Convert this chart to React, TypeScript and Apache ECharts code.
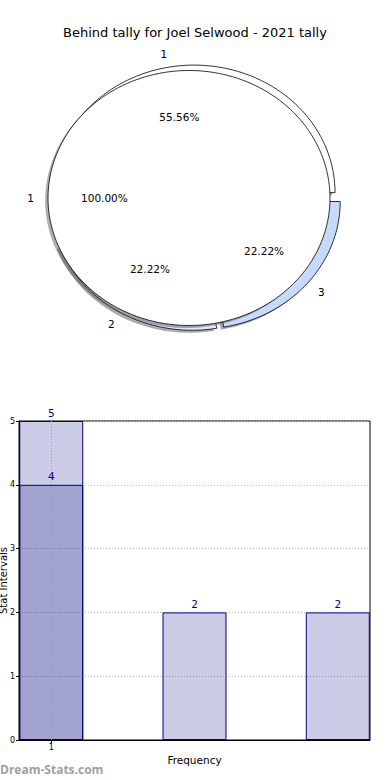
import React, { useEffect, useRef } from 'react';
import * as echarts from 'echarts';

const TITLE = 'Behind tally for Joel Selwood - 2021 tally';
const OUTER_LABELS = ['1', '2', '3'];
const OUTER_VALUES = [5, 2, 2];
const INNER_LABELS = ['1'];
const INNER_VALUES = [4];
const BAR_X = [1, 2, 3];
const BAR_TOTALS = [5, 2, 2];
const BAR_X_SUB = [1];
const BAR_SUB = [4];
const X_TICK_VALUES = [1];
const X_AXIS_NAME = 'Frequency';
const Y_AXIS_NAME = 'Stat Intervals';
const WATERMARK = 'Dream-Stats.com';

const FONT = "'DejaVu Sans', sans-serif";

type Geom = { cx: number; cy: number; rx: number; ry: number; explode: number; start: number; zBase: number };

function shade(hex: string) {
  const n = parseInt(hex.slice(1), 16);
  const r = Math.round(((n >> 16) & 255) * 0.3);
  const g = Math.round(((n >> 8) & 255) * 0.3);
  const b = Math.round((n & 255) * 0.3);
  return `rgba(${r},${g},${b},0.45)`;
}

function makePieRender(values: number[], labels: string[], colors: string[], geom: Geom) {
  const total = values.reduce((a, b) => a + b, 0);
  return (params: any, api: any) => {
    const i = params.dataIndex;
    const v = api.value(0);
    let start = geom.start;
    for (let j = 0; j < i; j++) start += (values[j] / total) * 360;
    const sweep = (v / total) * 360;
    const mid = ((start + sweep / 2) * Math.PI) / 180;
    const ox = geom.cx + geom.explode * Math.cos(mid);
    const oy = geom.cy - geom.explode * Math.sin(mid);
    const full = sweep >= 359.999;
    const pts: number[][] = [];
    if (!full) pts.push([ox, oy]);
    const n = Math.max(8, Math.ceil(sweep / 2));
    for (let k = 0; k <= n; k++) {
      const a = ((start + (sweep * k) / n) * Math.PI) / 180;
      pts.push([ox + geom.rx * Math.cos(a), oy - geom.ry * Math.sin(a)]);
    }
    const shadowPts = pts.map(([x, y]) => [x - 0.02 * geom.rx, y + 0.02 * geom.ry]);
    const lx = ox + 1.1 * geom.rx * Math.cos(mid);
    const ly = oy - 1.1 * geom.ry * Math.sin(mid);
    const px = ox + 0.6 * geom.rx * Math.cos(mid);
    const py = oy - 0.6 * geom.ry * Math.sin(mid);
    const color = colors[i % colors.length];
    return {
      type: 'group',
      children: [
        {
          type: 'polygon',
          z2: geom.zBase,
          shape: { points: shadowPts },
          style: { fill: shade(color), stroke: 'none' },
        },
        {
          type: 'polygon',
          z2: geom.zBase + 1,
          shape: { points: pts },
          style: { fill: color, stroke: '#000', lineWidth: 0.8 },
        },
        {
          type: 'text',
          z2: 50,
          x: lx,
          y: ly,
          style: {
            text: labels[i],
            fill: '#000',
            fontSize: 10.5,
            fontFamily: FONT,
            align: Math.cos(mid) > 0 ? 'left' : 'right',
            verticalAlign: 'middle',
          },
        },
        {
          type: 'text',
          z2: 50,
          x: px,
          y: py,
          style: {
            text: ((v / total) * 100).toFixed(2) + '%',
            fill: '#000',
            fontSize: 10.5,
            fontFamily: FONT,
            align: 'center',
            verticalAlign: 'middle',
          },
        },
      ],
    };
  };
}

const barColor = 'rgba(0,0,128,0.2)';
const barEdge = '#000080';
const gridColor = '#b8b8b8';

export default function App() {
  const ref = useRef<HTMLDivElement>(null);
  useEffect(() => {
    const chart = echarts.init(ref.current!, null, { renderer: 'svg' });
    const option: any = {
      animation: false,
      backgroundColor: '#fff',
      title: {
        text: TITLE,
        left: 'center',
        top: 21,
        textStyle: { fontFamily: FONT, fontSize: 13, fontWeight: 'normal', color: '#000' },
      },
      grid: {
        left: 19,
        right: 20,
        top: 421,
        bottom: 40,
        containLabel: false,
        outerBoundsMode: 'none',
        show: true,
        borderColor: '#000',
        borderWidth: 1,
        backgroundColor: 'transparent',
      },
      xAxis: {
        type: 'value',
        min: 0.775,
        max: 3.225,
        name: X_AXIS_NAME,
        nameLocation: 'middle',
        nameGap: 14,
        nameMoveOverlap: false,
        nameTextStyle: { fontFamily: FONT, fontSize: 10.5, color: '#000' },
        axisLine: { show: true, onZero: false, lineStyle: { color: '#000' } },
        axisTick: { show: true, customValues: X_TICK_VALUES, length: 3, lineStyle: { color: '#000' } },
        axisLabel: {
          customValues: X_TICK_VALUES,
          fontFamily: FONT,
          fontSize: 8,
          color: '#000',
          margin: 3,
        },
        splitLine: { show: false },
      },
      yAxis: {
        type: 'value',
        min: 0,
        max: 5,
        interval: 1,
        name: Y_AXIS_NAME,
        nameLocation: 'middle',
        nameGap: 11,
        nameMoveOverlap: false,
        nameTextStyle: { fontFamily: FONT, fontSize: 10, color: '#000' },
        axisLine: { show: true, lineStyle: { color: '#000' } },
        axisTick: { show: true, length: 3, lineStyle: { color: '#000' } },
        axisLabel: { fontFamily: FONT, fontSize: 8, color: '#000', margin: 4 },
        splitLine: { show: true, lineStyle: { color: gridColor, type: [1, 2], width: 1 } },
      },
      graphic: [
        {
          type: 'text',
          left: 0,
          top: 763,
          style: {
            text: WATERMARK,
            fill: '#a0a0a0',
            fontFamily: "'Open Sans', sans-serif",
            fontWeight: 'bold',
            fontSize: 12,
          },
        },
      ],
      series: [
        {
          type: 'custom',
          coordinateSystem: 'none',
          silent: true,
          z: 2,
          data: OUTER_VALUES.map((v) => [v]),
          renderItem: makePieRender(OUTER_VALUES, OUTER_LABELS, ['#ffffff', '#e1eafb', '#c6dafc'], {
            cx: 195, cy: 198, rx: 141, ry: 127.5, explode: 5.5, start: 0, zBase: 1,
          }),
        },
        {
          type: 'custom',
          coordinateSystem: 'none',
          silent: true,
          z: 2,
          data: INNER_VALUES.map((v) => [v]),
          renderItem: makePieRender(INNER_VALUES, INNER_LABELS, ['#ffffff'], {
            cx: 189, cy: 198, rx: 141, ry: 127.5, explode: 0, start: 0, zBase: 10,
          }),
        },
        {
          type: 'bar',
          barWidth: 64,
          barGap: '-100%',
          data: BAR_X.map((x, i) => [x, BAR_TOTALS[i]]),
          itemStyle: { color: barColor, borderColor: barEdge, borderWidth: 1 },
          label: { show: true, position: 'top', distance: 3, color: '#00008b', fontFamily: FONT, fontSize: 10.5 },
          markLine: {
            silent: true,
            symbol: 'none',
            label: { show: false },
            lineStyle: { color: '#999', type: [1, 2], width: 1 },
            data: X_TICK_VALUES.map((x) => ({ xAxis: x })),
          },
        },
        {
          type: 'bar',
          barWidth: 64,
          barGap: '-100%',
          data: BAR_X_SUB.map((x, i) => [x, BAR_SUB[i]]),
          itemStyle: { color: barColor, borderColor: barEdge, borderWidth: 1 },
          label: { show: true, position: 'top', distance: 3, color: '#00008b', fontFamily: FONT, fontSize: 10.5 },
        },
      ],
    };
    chart.setOption(option);
    return () => chart.dispose();
  }, []);
  return (
    <div
      ref={ref}
      style={{ position: 'fixed', left: 0, top: 0, width: 390, height: 780, background: '#fff' }}
    />
  );
}
